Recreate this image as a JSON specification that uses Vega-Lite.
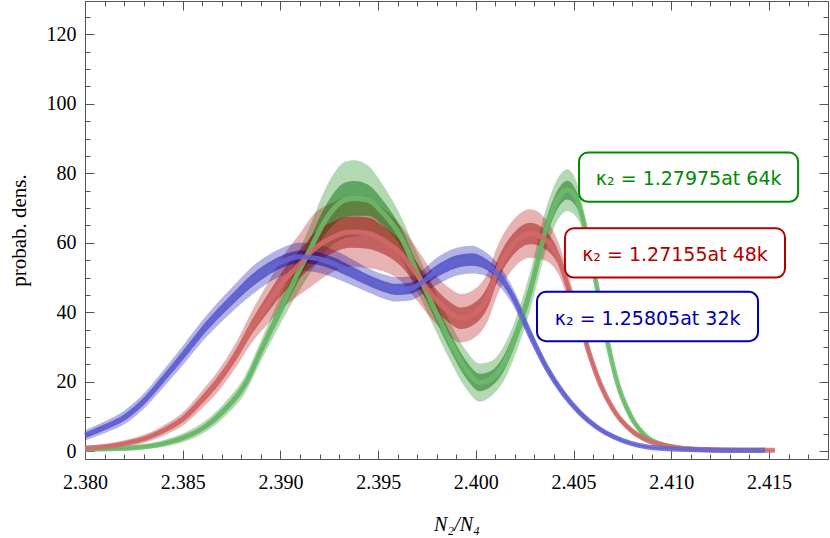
{
"$schema": "https://vega.github.io/schema/vega-lite/v6.json",
"width": 743, "height": 458,
"autosize": {"type": "none"},
"padding": {"left": 85, "top": 1, "right": 2, "bottom": 79},
"background": "white",
"config": {"view": {"stroke": null}, "axis": {"domainColor": "#555", "tickColor": "#555", "labelColor": "#000", "labelFont": "Liberation Serif", "labelFontSize": 20, "grid": false, "titleColor": "#000", "titleFontWeight": "normal", "titleFont": "Liberation Serif"}},
"datasets": {
"pts": [
{"series":"64k","x":2.38000,"y":0.6,"lo":0.0,"hi":1.2,"ilo":0.3,"ihi":0.9},
{"series":"64k","x":2.38208,"y":0.9,"lo":0.2,"hi":1.6,"ilo":0.6,"ihi":1.2},
{"series":"64k","x":2.38406,"y":2.3,"lo":1.3,"hi":3.3,"ilo":1.9,"ihi":2.8},
{"series":"64k","x":2.38515,"y":4.2,"lo":2.9,"hi":5.5,"ilo":3.6,"ihi":4.8},
{"series":"64k","x":2.38614,"y":7.1,"lo":5.5,"hi":8.7,"ilo":6.4,"ihi":7.8},
{"series":"64k","x":2.38713,"y":11.9,"lo":9.9,"hi":13.9,"ilo":11.0,"ihi":12.8},
{"series":"64k","x":2.38822,"y":19.6,"lo":17.1,"hi":22.1,"ilo":18.5,"ihi":20.7},
{"series":"64k","x":2.38902,"y":29.2,"lo":26.2,"hi":32.2,"ilo":27.9,"ihi":30.6},
{"series":"64k","x":2.38991,"y":39.7,"lo":35.7,"hi":43.7,"ilo":37.9,"ihi":41.5},
{"series":"64k","x":2.39080,"y":50.2,"lo":44.7,"hi":55.7,"ilo":47.7,"ihi":52.7},
{"series":"64k","x":2.39159,"y":58.9,"lo":51.9,"hi":65.9,"ilo":55.7,"ihi":62.1},
{"series":"64k","x":2.39209,"y":64.5,"lo":56.0,"hi":73.0,"ilo":60.7,"ihi":68.3},
{"series":"64k","x":2.39268,"y":69.5,"lo":59.5,"hi":79.5,"ilo":65.0,"ihi":74.0},
{"series":"64k","x":2.39328,"y":72.3,"lo":61.3,"hi":83.3,"ilo":67.3,"ihi":77.3},
{"series":"64k","x":2.39377,"y":72.8,"lo":61.8,"hi":83.8,"ilo":67.8,"ihi":77.8},
{"series":"64k","x":2.39447,"y":72.3,"lo":62.3,"hi":82.3,"ilo":67.8,"ihi":76.8},
{"series":"64k","x":2.39526,"y":68.5,"lo":60.5,"hi":76.5,"ilo":64.9,"ihi":72.1},
{"series":"64k","x":2.39615,"y":61.8,"lo":55.8,"hi":67.8,"ilo":59.1,"ihi":64.5},
{"series":"64k","x":2.39694,"y":52.2,"lo":46.7,"hi":57.7,"ilo":49.7,"ihi":54.7},
{"series":"64k","x":2.39783,"y":41.6,"lo":36.1,"hi":47.1,"ilo":39.1,"ihi":44.1},
{"series":"64k","x":2.39873,"y":31.1,"lo":25.6,"hi":36.6,"ilo":28.6,"ihi":33.6},
{"series":"64k","x":2.39952,"y":23.4,"lo":17.9,"hi":28.9,"ilo":20.9,"ihi":25.9},
{"series":"64k","x":2.40021,"y":19.8,"lo":14.3,"hi":25.3,"ilo":17.3,"ihi":22.3},
{"series":"64k","x":2.40081,"y":21.0,"lo":16.0,"hi":26.0,"ilo":18.8,"ihi":23.3},
{"series":"64k","x":2.40140,"y":25.0,"lo":20.0,"hi":30.0,"ilo":22.8,"ihi":27.3},
{"series":"64k","x":2.40190,"y":31.1,"lo":26.1,"hi":36.1,"ilo":28.9,"ihi":33.4},
{"series":"64k","x":2.40279,"y":46.4,"lo":40.9,"hi":51.9,"ilo":43.9,"ihi":48.9},
{"series":"64k","x":2.40358,"y":63.7,"lo":57.7,"hi":69.7,"ilo":61.0,"ihi":66.4},
{"series":"64k","x":2.40427,"y":73.3,"lo":67.3,"hi":79.3,"ilo":70.6,"ihi":76.0},
{"series":"64k","x":2.40467,"y":75.2,"lo":69.2,"hi":81.2,"ilo":72.5,"ihi":77.9},
{"series":"64k","x":2.40517,"y":72.3,"lo":67.3,"hi":77.3,"ilo":70.1,"ihi":74.6},
{"series":"64k","x":2.40566,"y":62.7,"lo":59.7,"hi":65.7,"ilo":61.4,"ihi":64.1},
{"series":"64k","x":2.40616,"y":48.3,"lo":46.3,"hi":50.3,"ilo":47.4,"ihi":49.2},
{"series":"64k","x":2.40675,"y":31.1,"lo":29.6,"hi":32.6,"ilo":30.4,"ihi":31.8},
{"series":"64k","x":2.40725,"y":19.6,"lo":18.4,"hi":20.8,"ilo":19.1,"ihi":20.1},
{"series":"64k","x":2.40794,"y":10.0,"lo":9.0,"hi":11.0,"ilo":9.6,"ihi":10.5},
{"series":"64k","x":2.40873,"y":4.2,"lo":3.4,"hi":5.0,"ilo":3.8,"ihi":4.6},
{"series":"64k","x":2.40962,"y":1.8,"lo":1.2,"hi":2.4,"ilo":1.5,"ihi":2.1},
{"series":"64k","x":2.41042,"y":1.0,"lo":0.6,"hi":1.4,"ilo":0.8,"ihi":1.2},
{"series":"64k","x":2.41171,"y":0.5,"lo":0.2,"hi":0.8,"ilo":0.4,"ihi":0.6},
{"series":"64k","x":2.41319,"y":0.3,"lo":0.1,"hi":0.5,"ilo":0.2,"ihi":0.4},
{"series":"64k","x":2.41480,"y":0.3,"lo":0.1,"hi":0.5,"ilo":0.2,"ihi":0.4},
{"series":"48k","x":2.38000,"y":0.9,"lo":0.2,"hi":1.6,"ilo":0.6,"ihi":1.2},
{"series":"48k","x":2.38099,"y":1.3,"lo":0.5,"hi":2.1,"ilo":0.9,"ihi":1.7},
{"series":"48k","x":2.38208,"y":2.3,"lo":1.3,"hi":3.3,"ilo":1.9,"ihi":2.8},
{"series":"48k","x":2.38307,"y":3.7,"lo":2.5,"hi":4.9,"ilo":3.2,"ihi":4.2},
{"series":"48k","x":2.38406,"y":6.1,"lo":4.6,"hi":7.6,"ilo":5.4,"ihi":6.8},
{"series":"48k","x":2.38515,"y":10.0,"lo":8.0,"hi":12.0,"ilo":9.1,"ihi":10.9},
{"series":"48k","x":2.38594,"y":14.6,"lo":12.1,"hi":17.1,"ilo":13.5,"ihi":15.7},
{"series":"48k","x":2.38684,"y":20.4,"lo":17.4,"hi":23.4,"ilo":19.1,"ihi":21.8},
{"series":"48k","x":2.38773,"y":27.8,"lo":24.3,"hi":31.3,"ilo":26.2,"ihi":29.4},
{"series":"48k","x":2.38852,"y":35.6,"lo":31.1,"hi":40.1,"ilo":33.6,"ihi":37.6},
{"series":"48k","x":2.38941,"y":43.0,"lo":37.0,"hi":49.0,"ilo":40.3,"ihi":45.7},
{"series":"48k","x":2.39021,"y":49.3,"lo":41.8,"hi":56.8,"ilo":45.9,"ihi":52.7},
{"series":"48k","x":2.39110,"y":54.5,"lo":45.5,"hi":63.5,"ilo":50.5,"ihi":58.5},
{"series":"48k","x":2.39159,"y":57.5,"lo":47.5,"hi":67.5,"ilo":53.0,"ihi":62.0},
{"series":"48k","x":2.39268,"y":61.6,"lo":51.6,"hi":71.6,"ilo":57.1,"ihi":66.1},
{"series":"48k","x":2.39357,"y":63.1,"lo":53.1,"hi":73.1,"ilo":58.6,"ihi":67.6},
{"series":"48k","x":2.39447,"y":62.8,"lo":52.8,"hi":72.8,"ilo":58.3,"ihi":67.3},
{"series":"48k","x":2.39526,"y":60.8,"lo":51.8,"hi":69.8,"ilo":56.8,"ihi":64.8},
{"series":"48k","x":2.39615,"y":57.0,"lo":49.0,"hi":65.0,"ilo":53.4,"ihi":60.6},
{"series":"48k","x":2.39694,"y":51.2,"lo":43.7,"hi":58.7,"ilo":47.8,"ihi":54.6},
{"series":"48k","x":2.39783,"y":44.5,"lo":37.5,"hi":51.5,"ilo":41.4,"ihi":47.6},
{"series":"48k","x":2.39873,"y":39.7,"lo":32.7,"hi":46.7,"ilo":36.6,"ihi":42.8},
{"series":"48k","x":2.39922,"y":38.3,"lo":31.3,"hi":45.3,"ilo":35.2,"ihi":41.4},
{"series":"48k","x":2.39991,"y":39.6,"lo":32.6,"hi":46.6,"ilo":36.5,"ihi":42.7},
{"series":"48k","x":2.40061,"y":44.5,"lo":37.5,"hi":51.5,"ilo":41.4,"ihi":47.6},
{"series":"48k","x":2.40110,"y":52.0,"lo":45.0,"hi":59.0,"ilo":48.9,"ihi":55.1},
{"series":"48k","x":2.40190,"y":59.5,"lo":52.5,"hi":66.5,"ilo":56.4,"ihi":62.6},
{"series":"48k","x":2.40279,"y":62.7,"lo":55.7,"hi":69.7,"ilo":59.6,"ihi":65.8},
{"series":"48k","x":2.40358,"y":60.8,"lo":54.8,"hi":66.8,"ilo":58.1,"ihi":63.5},
{"series":"48k","x":2.40427,"y":55.0,"lo":50.5,"hi":59.5,"ilo":53.0,"ihi":57.0},
{"series":"48k","x":2.40477,"y":46.4,"lo":42.9,"hi":49.9,"ilo":44.8,"ihi":48.0},
{"series":"48k","x":2.40536,"y":36.8,"lo":34.3,"hi":39.3,"ilo":35.7,"ihi":37.9},
{"series":"48k","x":2.40586,"y":27.2,"lo":25.4,"hi":29.0,"ilo":26.4,"ihi":28.0},
{"series":"48k","x":2.40635,"y":19.6,"lo":18.2,"hi":21.0,"ilo":19.0,"ihi":20.2},
{"series":"48k","x":2.40705,"y":11.9,"lo":10.8,"hi":13.0,"ilo":11.4,"ihi":12.4},
{"series":"48k","x":2.40794,"y":6.1,"lo":5.2,"hi":7.0,"ilo":5.7,"ihi":6.5},
{"series":"48k","x":2.40873,"y":3.3,"lo":2.6,"hi":4.0,"ilo":3.0,"ihi":3.6},
{"series":"48k","x":2.40962,"y":1.8,"lo":1.3,"hi":2.3,"ilo":1.6,"ihi":2.0},
{"series":"48k","x":2.41042,"y":1.0,"lo":0.6,"hi":1.4,"ilo":0.8,"ihi":1.2},
{"series":"48k","x":2.41171,"y":0.5,"lo":0.2,"hi":0.8,"ilo":0.4,"ihi":0.6},
{"series":"48k","x":2.41319,"y":0.3,"lo":0.1,"hi":0.5,"ilo":0.2,"ihi":0.4},
{"series":"48k","x":2.41530,"y":0.3,"lo":0.1,"hi":0.5,"ilo":0.2,"ihi":0.4},
{"series":"32k","x":2.38000,"y":4.6,"lo":3.1,"hi":6.1,"ilo":3.9,"ihi":5.3},
{"series":"32k","x":2.38099,"y":6.9,"lo":5.2,"hi":8.6,"ilo":6.1,"ihi":7.7},
{"series":"32k","x":2.38208,"y":10.0,"lo":8.0,"hi":12.0,"ilo":9.1,"ihi":10.9},
{"series":"32k","x":2.38307,"y":14.8,"lo":12.6,"hi":17.0,"ilo":13.8,"ihi":15.8},
{"series":"32k","x":2.38406,"y":21.2,"lo":18.7,"hi":23.7,"ilo":20.1,"ihi":22.3},
{"series":"32k","x":2.38515,"y":28.6,"lo":25.8,"hi":31.4,"ilo":27.3,"ihi":29.9},
{"series":"32k","x":2.38594,"y":34.2,"lo":31.2,"hi":37.2,"ilo":32.8,"ihi":35.6},
{"series":"32k","x":2.38684,"y":39.8,"lo":36.5,"hi":43.1,"ilo":38.3,"ihi":41.3},
{"series":"32k","x":2.38773,"y":44.8,"lo":41.2,"hi":48.4,"ilo":43.2,"ihi":46.4},
{"series":"32k","x":2.38852,"y":49.0,"lo":45.0,"hi":53.0,"ilo":47.2,"ihi":50.8},
{"series":"32k","x":2.38941,"y":52.6,"lo":48.6,"hi":56.6,"ilo":50.8,"ihi":54.4},
{"series":"32k","x":2.39021,"y":54.9,"lo":50.9,"hi":58.9,"ilo":53.1,"ihi":56.7},
{"series":"32k","x":2.39100,"y":56.0,"lo":52.0,"hi":60.0,"ilo":54.2,"ihi":57.8},
{"series":"32k","x":2.39189,"y":55.5,"lo":51.5,"hi":59.5,"ilo":53.7,"ihi":57.3},
{"series":"32k","x":2.39268,"y":54.1,"lo":50.1,"hi":58.1,"ilo":52.3,"ihi":55.9},
{"series":"32k","x":2.39357,"y":51.8,"lo":48.0,"hi":55.6,"ilo":50.1,"ihi":53.5},
{"series":"32k","x":2.39447,"y":49.3,"lo":45.8,"hi":52.8,"ilo":47.7,"ihi":50.9},
{"series":"32k","x":2.39536,"y":47.3,"lo":43.8,"hi":50.8,"ilo":45.7,"ihi":48.9},
{"series":"32k","x":2.39595,"y":46.6,"lo":43.1,"hi":50.1,"ilo":45.0,"ihi":48.2},
{"series":"32k","x":2.39665,"y":46.9,"lo":43.4,"hi":50.4,"ilo":45.3,"ihi":48.5},
{"series":"32k","x":2.39734,"y":49.0,"lo":45.5,"hi":52.5,"ilo":47.4,"ihi":50.6},
{"series":"32k","x":2.39783,"y":51.2,"lo":47.4,"hi":55.0,"ilo":49.5,"ihi":52.9},
{"series":"32k","x":2.39843,"y":53.2,"lo":49.2,"hi":57.2,"ilo":51.4,"ihi":55.0},
{"series":"32k","x":2.39902,"y":54.6,"lo":50.6,"hi":58.6,"ilo":52.8,"ihi":56.4},
{"series":"32k","x":2.39982,"y":55.2,"lo":51.2,"hi":59.2,"ilo":53.4,"ihi":57.0},
{"series":"32k","x":2.40041,"y":54.2,"lo":50.7,"hi":57.7,"ilo":52.6,"ihi":55.8},
{"series":"32k","x":2.40120,"y":50.5,"lo":47.5,"hi":53.5,"ilo":49.2,"ihi":51.9},
{"series":"32k","x":2.40190,"y":44.5,"lo":42.0,"hi":47.0,"ilo":43.4,"ihi":45.6},
{"series":"32k","x":2.40279,"y":33.5,"lo":31.5,"hi":35.5,"ilo":32.6,"ihi":34.4},
{"series":"32k","x":2.40358,"y":24.5,"lo":23.0,"hi":26.0,"ilo":23.8,"ihi":25.2},
{"series":"32k","x":2.40447,"y":16.7,"lo":15.5,"hi":17.9,"ilo":16.2,"ihi":17.2},
{"series":"32k","x":2.40536,"y":10.9,"lo":9.9,"hi":11.9,"ilo":10.5,"ihi":11.4},
{"series":"32k","x":2.40616,"y":7.1,"lo":6.3,"hi":7.9,"ilo":6.7,"ihi":7.5},
{"series":"32k","x":2.40705,"y":4.2,"lo":3.6,"hi":4.8,"ilo":3.9,"ihi":4.5},
{"series":"32k","x":2.40794,"y":2.3,"lo":1.8,"hi":2.8,"ilo":2.1,"ihi":2.5},
{"series":"32k","x":2.40873,"y":1.3,"lo":0.9,"hi":1.7,"ilo":1.1,"ihi":1.5},
{"series":"32k","x":2.40962,"y":0.8,"lo":0.5,"hi":1.1,"ilo":0.7,"ihi":0.9},
{"series":"32k","x":2.41042,"y":0.6,"lo":0.3,"hi":0.9,"ilo":0.5,"ihi":0.7},
{"series":"32k","x":2.41171,"y":0.4,"lo":0.2,"hi":0.6,"ilo":0.3,"ihi":0.5},
{"series":"32k","x":2.41319,"y":0.3,"lo":0.1,"hi":0.5,"ilo":0.2,"ihi":0.4},
{"series":"32k","x":2.41480,"y":0.3,"lo":0.1,"hi":0.5,"ilo":0.2,"ihi":0.4}
],
"labels": [
{"series":"64k","x1":2.40528,"x2":2.41649,"y1":86.0,"y2":71.8,"tx":2.41089,"ty":78.9,"text":"κ₂ = 1.27975at 64k"},
{"series":"48k","x1":2.40456,"x2":2.41582,"y1":64.2,"y2":50.0,"tx":2.41019,"ty":57.1,"text":"κ₂ = 1.27155at 48k"},
{"series":"32k","x1":2.40313,"x2":2.41444,"y1":45.9,"y2":31.7,"tx":2.40879,"ty":38.8,"text":"κ₂ = 1.25805at 32k"}
]
},
"resolve": {"axis": {"x": "independent", "y": "independent"}, "scale": {"stroke": "independent", "fill": "independent"}},
"layer": [
{
"data": {"name": "pts"},
"mark": {"type": "area", "opacity": 0.3, "interpolate": "monotone"},
"encoding": {
"x": {"field": "x", "type": "quantitative", "scale": {"domain": [2.38, 2.41802], "nice": false, "zero": false},
 "axis": {"orient": "bottom", "values": [2.38,2.381,2.382,2.383,2.384,2.385,2.386,2.387,2.388,2.389,2.39,2.391,2.392,2.393,2.394,2.395,2.396,2.397,2.398,2.399,2.4,2.401,2.402,2.403,2.404,2.405,2.406,2.407,2.408,2.409,2.41,2.411,2.412,2.413,2.414,2.415,2.416,2.417,2.418],
  "labelExpr": "abs(datum.value*200-round(datum.value*200))<1e-6 ? format(datum.value, '.3f') : ''",
  "tickSize": {"condition": {"test": "abs(datum.value*200-round(datum.value*200))<1e-6", "value": -9}, "value": -5},
  "labelPadding": 22, "labelFlush": false, "labelOverlap": false,
  "title": "N₂/N₄", "titleFontStyle": "italic", "titleFontSize": 20, "titlePadding": 18}},
"y": {"field": "lo", "type": "quantitative", "scale": {"domain": [-2.2, 129.6], "nice": false, "zero": false},
 "axis": {"orient": "left", "values": [0,5,10,15,20,25,30,35,40,45,50,55,60,65,70,75,80,85,90,95,100,105,110,115,120,125],
  "labelExpr": "datum.value % 20 == 0 ? datum.label : ''",
  "tickSize": {"condition": {"test": "datum.value % 20 == 0", "value": -9}, "value": -5},
  "labelPadding": 18, "labelFlush": false, "labelOverlap": false,
  "title": "probab. dens.", "titleFontSize": 21, "titlePadding": 17}},
"y2": {"field": "hi"},
"fill": {"field": "series", "type": "nominal", "scale": {"domain": ["64k", "48k", "32k"], "range": ["#008000", "#b00000", "#0000b0"]}, "legend": null}
}
},
{
"data": {"name": "pts"},
"mark": {"type": "area", "opacity": 0.45, "interpolate": "monotone"},
"encoding": {
"x": {"field": "x", "type": "quantitative",
 "axis": {"orient": "top", "values": [2.38,2.381,2.382,2.383,2.384,2.385,2.386,2.387,2.388,2.389,2.39,2.391,2.392,2.393,2.394,2.395,2.396,2.397,2.398,2.399,2.4,2.401,2.402,2.403,2.404,2.405,2.406,2.407,2.408,2.409,2.41,2.411,2.412,2.413,2.414,2.415,2.416,2.417,2.418],
  "labels": false, "title": null,
  "tickSize": {"condition": {"test": "abs(datum.value*200-round(datum.value*200))<1e-6", "value": -9}, "value": -5}}},
"y": {"field": "ilo", "type": "quantitative",
 "axis": {"orient": "right", "values": [0,5,10,15,20,25,30,35,40,45,50,55,60,65,70,75,80,85,90,95,100,105,110,115,120,125],
  "labels": false, "title": null,
  "tickSize": {"condition": {"test": "datum.value % 20 == 0", "value": -9}, "value": -5}}},
"y2": {"field": "ihi"},
"fill": {"field": "series", "type": "nominal", "scale": {"domain": ["64k", "48k", "32k"], "range": ["#006400", "#990000", "#000099"]}, "legend": null}
}
},
{
"data": {"name": "pts"},
"mark": {"type": "line", "strokeWidth": 5, "opacity": 0.85, "interpolate": "monotone"},
"encoding": {
"x": {"field": "x", "type": "quantitative", "axis": null},
"y": {"field": "y", "type": "quantitative", "axis": null},
"stroke": {"field": "series", "type": "nominal", "scale": {"domain": ["64k", "48k", "32k"], "range": ["#6cbc6c", "#d46a6a", "#6464d6"]}, "legend": null}
}
},
{
"data": {"name": "labels"},
"mark": {"type": "rect", "fill": "white", "strokeWidth": 2, "cornerRadius": 9},
"encoding": {
"x": {"field": "x1", "type": "quantitative", "axis": null},
"x2": {"field": "x2"},
"y": {"field": "y1", "type": "quantitative", "axis": null},
"y2": {"field": "y2"},
"stroke": {"field": "series", "type": "nominal", "scale": {"domain": ["64k", "48k", "32k"], "range": ["#008a00", "#b00000", "#0000b0"]}, "legend": null}
}
},
{
"data": {"name": "labels"},
"mark": {"type": "text", "font": "DejaVu Sans", "fontSize": 19, "align": "center", "baseline": "middle", "dy": 2},
"encoding": {
"x": {"field": "tx", "type": "quantitative", "axis": null},
"y": {"field": "ty", "type": "quantitative", "axis": null},
"text": {"field": "text"},
"fill": {"field": "series", "type": "nominal", "scale": {"domain": ["64k", "48k", "32k"], "range": ["#008a00", "#b00000", "#0000b0"]}, "legend": null}
}
}
]
}
